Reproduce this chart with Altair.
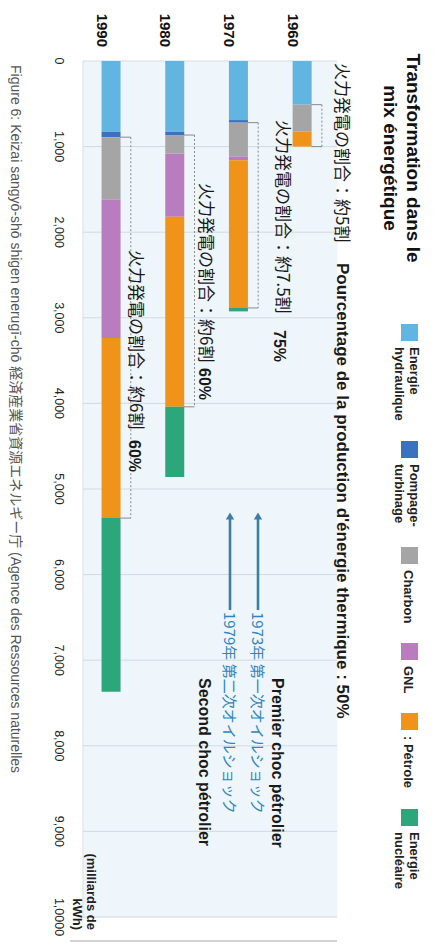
import altair as alt
import pandas as pd

# ---------------- data ----------------
years = ["1960", "1970", "1980", "1990"]
slot_order = ["1990", "1980", "1970", "1960"]  # left-to-right order of the columns (picture is turned 90°)
sources = ["Energie hydraulique", "Pompage-turbinage", "Charbon", "GNL", "Pétrole", "Energie nucléaire"]
hydro = [510, 690, 825, 825]
pumped = [0, 30, 40, 65]
coal = [315, 395, 215, 730]
lng = [0, 45, 740, 1615]
oil = [175, 1725, 2220, 2105]
nuclear = [0, 40, 820, 2030]
colors = ["#62b5e0", "#3b72bf", "#a5a5a5", "#b87cbf", "#ef9419", "#2ea67b"]
legend_labels = [["Energie", "hydraulique"], ["Pompage-", "turbinage"], ["Charbon"], ["GNL"],
                 [": Pétrole"], ["Energie", "nucléaire"]]
y_ticks = [0, 1000, 2000, 3000, 4000, 5000, 6000, 7000, 8000, 9000, 10000]
share_ja = ["火力発電の割合：約5割", "火力発電の割合：約7.5割", "火力発電の割合：約6割", "火力発電の割合：約6割"]
share_pct = ["Pourcentage de la production d'énergie thermique : 50%", "75%", "60%", "60%"]
title_lines = ["Transformation dans le", "mix énergétique"]
axis_title_lines = ["(milliards de", "kWh)"]
shock_ja = ["1973年 第一次オイルショック", "1979年 第二次オイルショック"]
shock_fr = ["Premier choc pétrolier", "Second choc pétrolier"]
caption = ("Figure 6: Keizai sangyō-shō shigen enerugī-chō 経済産業省資源エネルギー庁 "
           "(Agence des Ressources naturelles")

FONT = "Liberation Sans, Noto Sans CJK JP, sans-serif"
JFONT = "Noto Sans CJK JP, sans-serif"

series = [hydro, pumped, coal, lng, oil, nuclear]
rows = []
for i, yr in enumerate(years):
    for k, (src, vals) in enumerate(zip(sources, series)):
        rows.append({"year": yr, "source": src, "value": vals[i], "k": k, "pos": slot_order.index(yr)})
df = pd.DataFrame(rows)

br_rows, tick_rows = [], []
for i, yr in enumerate(years):
    s = hydro[i] + pumped[i]
    e = s + coal[i] + lng[i] + oil[i]
    p = slot_order.index(yr)
    br_rows.append({"year": yr, "pos": p, "s": s, "e": e})
    tick_rows.append({"year": yr, "pos": p, "v": s})
    tick_rows.append({"year": yr, "pos": p, "v": e})
br = pd.DataFrame(br_rows)
brt = pd.DataFrame(tick_rows)
yl = pd.DataFrame({"year": years, "pos": [slot_order.index(y) for y in years]})
yt = pd.DataFrame({"t": y_ticks})

XS = alt.Scale(domain=[-0.362, 3.469], nice=False, zero=False)
YS = alt.Scale(domain=[0, 10000], nice=False, reverse=True)

# grid lines and value labels (value axis, drawn on the shared y scale)
grid = alt.Chart(yt).mark_rule(color="#d2d9e0", strokeWidth=1).encode(
    y=alt.Y("t:Q", scale=YS, axis=None), x=alt.value(0), x2=alt.value(254))
left_edge = alt.Chart(pd.DataFrame({"a": [0]})).mark_rule(color="#d5dce3", strokeWidth=1).encode(
    x=alt.value(0), y=alt.value(0), y2=alt.value(856))
value_labels = alt.Chart(yt).transform_calculate(
    lab="datum.t == 10000 ? '1,0000' : format(datum.t, ',')").mark_text(
    angle=90, align="center", baseline="middle", fontSize=12.5, font=FONT, color="#222").encode(
    y=alt.Y("t:Q", scale=YS, axis=None), x=alt.value(-24), text="lab:N")

bars = alt.Chart(df).mark_bar(size=19).encode(
    x=alt.X("pos:Q", scale=XS, axis=None),
    y=alt.Y("value:Q", stack="zero", scale=YS, axis=None),
    color=alt.Color("source:N", scale=alt.Scale(domain=sources, range=colors), legend=None),
    order=alt.Order("k:Q", sort="ascending"),
)

bracket_v = alt.Chart(br).transform_calculate(bx="datum.pos + 0.31").mark_rule(
    color="#8a8a8a", strokeWidth=1, strokeDash=[2, 2]).encode(
    x=alt.X("bx:Q", scale=XS, axis=None),
    y=alt.Y("s:Q", scale=YS, axis=None), y2="e:Q")

bracket_h = alt.Chart(brt).transform_calculate(
    x0="datum.pos + 0.143", x1="datum.pos + 0.31").mark_rule(color="#8a8a8a", strokeWidth=1).encode(
    x=alt.X("x0:Q", scale=XS, axis=None), x2="x1:Q",
    y=alt.Y("v:Q", scale=YS, axis=None))

year_labels = alt.Chart(yl).transform_calculate(lx="datum.pos - 0.15").mark_text(
    angle=90, align="right", baseline="middle", fontSize=15, fontWeight="bold", font=FONT,
    color="#111").encode(x=alt.X("lx:Q", scale=XS, axis=None), y=alt.value(-14), text="year:N")


def label(text, px, py, size, weight="normal", color="#1a1a1a", font=FONT, align="left"):
    return alt.Chart(pd.DataFrame({"t": [text]})).mark_text(
        angle=90, align=align, baseline="middle", fontSize=size, fontWeight=weight,
        color=color, font=font).encode(x=alt.value(px), y=alt.value(py), text="t:N")


def square(color, px, py, size=17):
    return alt.Chart(pd.DataFrame({"c": [color]})).mark_rect(color=color).encode(
        x=alt.value(px), x2=alt.value(px + size), y=alt.value(py), y2=alt.value(py + size))


def arrow(px, py_tip, py_end, color="#3b7fa9"):
    one = pd.DataFrame({"a": [0]})
    shaft = alt.Chart(one).mark_rule(color=color, strokeWidth=2.6).encode(
        x=alt.value(px), y=alt.value(py_tip + 4), y2=alt.value(py_end))
    head = alt.Chart(one).mark_point(shape="triangle-up", filled=True, size=70, color=color,
                                     opacity=1).encode(x=alt.value(px), y=alt.value(py_tip + 4))
    return [shaft, head]


layers = [grid, left_edge, value_labels, bars, bracket_v, bracket_h, year_labels]

# title
layers.append(label(title_lines[0], 330, 97, 19, "bold", "#111", align="center"))
layers.append(label(title_lines[1], 307, 97, 19, "bold", "#111", align="center"))

# thermal share annotations
layers.append(label(share_ja[0], 258, 2, 17, font=JFONT))
layers.append(label(share_pct[0], 259, 202, 17, "bold"))
layers.append(label(share_ja[1], 199, 59, 17, font=JFONT))
layers.append(label(share_pct[1], 196, 269, 16, "bold"))
layers.append(label(share_ja[2], 122, 122, 17, font=JFONT))
layers.append(label(share_pct[2], 121, 307, 16, "bold"))
layers.append(label(share_ja[3], 52, 189, 17, font=JFONT))
layers.append(label(share_pct[3], 51, 379, 16, "bold"))

# oil shocks
layers += arrow(175, 451, 549)
layers += arrow(147, 451, 549)
layers.append(label(shock_ja[0], 174, 551, 15, color="#2f86c3", font=JFONT))
layers.append(label(shock_ja[1], 146, 551, 15, color="#2f86c3", font=JFONT))
layers.append(label(shock_fr[0], 194, 617, 16, "bold"))
layers.append(label(shock_fr[1], 121, 617, 16, "bold"))

# axis title and caption
layers.append(label(axis_title_lines[0], 8, 869, 13, "bold", "#222", align="right"))
layers.append(label(axis_title_lines[1], -6, 869, 13, "bold", "#222", align="right"))
layers.append(label(caption, -68, 4, 14, color="#555"))
layers.append(alt.Chart(pd.DataFrame({"a": [0]})).mark_rule(color="#c4c4c4", strokeWidth=1.5).encode(
    x=alt.value(-13), x2=alt.value(254), y=alt.value(880)))

# manual legend (rotated)
sq_py = [263, 380, 486, 582, 652, 748]
lab_py = [286, 403, 509, 605, 675, 771]
for col, lines, sp, lp in zip(colors, legend_labels, sq_py, lab_py):
    layers.append(square(col, 318, sp))
    if len(lines) == 2:
        layers.append(label(lines[0], 331, lp, 13, "bold", "#222"))
        layers.append(label(lines[1], 316, lp, 13, "bold", "#222"))
    else:
        layers.append(label(lines[0], 325, lp, 13, "bold", "#222"))

chart = alt.layer(*layers).properties(
    width=254, height=856,
    padding={"left": 75, "top": 53, "right": 89, "bottom": 26},
    autosize=alt.AutoSizeParams(type="none"),
    background="white",
).configure_view(fill="#eef5fb", stroke="transparent")

chart.save("out.html", embed_options={"renderer": "svg", "actions": False})
